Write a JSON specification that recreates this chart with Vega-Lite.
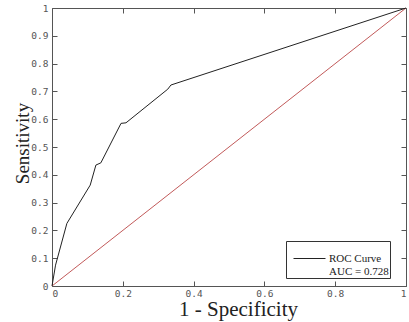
{
  "$schema": "https://vega.github.io/schema/vega-lite/v6.json",
  "width": 354,
  "height": 278,
  "autosize": {"type": "none"},
  "padding": {"left": 52, "top": 8, "right": 3, "bottom": 36},
  "background": "white",
  "config": {"view": {"stroke": null}},
  "datasets": {
    "roc": [
      {"fpr": 0, "tpr": 0},
      {"fpr": 0.01, "tpr": 0.075},
      {"fpr": 0.042, "tpr": 0.225},
      {"fpr": 0.108, "tpr": 0.363},
      {"fpr": 0.124, "tpr": 0.435},
      {"fpr": 0.138, "tpr": 0.443},
      {"fpr": 0.195, "tpr": 0.585},
      {"fpr": 0.209, "tpr": 0.587},
      {"fpr": 0.327, "tpr": 0.708},
      {"fpr": 0.336, "tpr": 0.723},
      {"fpr": 1, "tpr": 1}
    ],
    "diag": [
      {"fpr": 0, "tpr": 0},
      {"fpr": 1, "tpr": 1}
    ]
  },
  "layer": [
    {
      "data": {"name": "diag"},
      "mark": {"type": "line", "color": "#c25a5a", "strokeWidth": 1},
      "encoding": {
        "x": {"field": "fpr", "type": "quantitative", "scale": {"domain": [0, 1], "nice": false},
          "axis": {"orient": "top", "labels": false, "title": null, "grid": false, "values": [0, 0.2, 0.4, 0.6, 0.8, 1], "tickSize": -5, "domainColor": "#555", "tickColor": "#555"}},
        "y": {"field": "tpr", "type": "quantitative", "scale": {"domain": [0, 1], "nice": false},
          "axis": {"orient": "right", "labels": false, "title": null, "grid": false, "values": [0, 0.1, 0.2, 0.3, 0.4, 0.5, 0.6, 0.7, 0.8, 0.9, 1], "tickSize": -5, "domainColor": "#555", "tickColor": "#555"}}
      }
    },
    {
      "data": {"name": "roc"},
      "mark": {"type": "line", "strokeWidth": 1},
      "encoding": {
        "x": {"field": "fpr", "type": "quantitative", "scale": {"domain": [0, 1], "nice": false},
          "axis": {"orient": "bottom", "title": "1 - Specificity", "grid": false, "values": [0, 0.2, 0.4, 0.6, 0.8, 1], "format": "~g",
            "tickSize": -5, "labelPadding": 7, "domainColor": "#555", "tickColor": "#555",
            "labelFont": "DejaVu Sans Mono", "labelFontSize": 9.5, "labelColor": "#555",
            "titleFont": "Liberation Serif", "titleFontWeight": "normal", "titleFontSize": 21, "titleColor": "#222",
            "titleX": 186, "titleY": 29, "titleBaseline": "alphabetic"}},
        "y": {"field": "tpr", "type": "quantitative", "scale": {"domain": [0, 1], "nice": false},
          "axis": {"orient": "left", "title": "Sensitivity", "grid": false, "values": [0, 0.1, 0.2, 0.3, 0.4, 0.5, 0.6, 0.7, 0.8, 0.9, 1], "format": "~g",
            "tickSize": -5, "labelPadding": 9, "domainColor": "#555", "tickColor": "#555",
            "labelFont": "DejaVu Sans Mono", "labelFontSize": 9.5, "labelColor": "#555",
            "titleFont": "Liberation Serif", "titleFontWeight": "normal", "titleFontSize": 19, "titleColor": "#222",
            "titleX": -24, "titleY": 135, "titleBaseline": "alphabetic"}},
        "color": {"datum": "ROC Curve", "type": "nominal", "scale": {"range": ["#222"]},
          "legend": {"orient": "none", "legendX": 234, "legendY": 233, "title": null, "symbolType": "stroke", "symbolSize": 1024,
            "symbolStrokeWidth": 1, "symbolOffset": 6, "labelExpr": "['ROC Curve', 'AUC = 0.728\u00a0\u00a0\u00a0']", "labelFont": "Liberation Serif", "labelFontSize": 11,
            "labelColor": "#222", "labelOffset": 3, "strokeColor": "#333", "padding": 1, "fillColor": "white",
            "encode": {"labels": {"update": {"lineHeight": {"value": 13}}}}}}
      }
    }
  ],
  "resolve": {"axis": {"x": "independent", "y": "independent"}}
}
